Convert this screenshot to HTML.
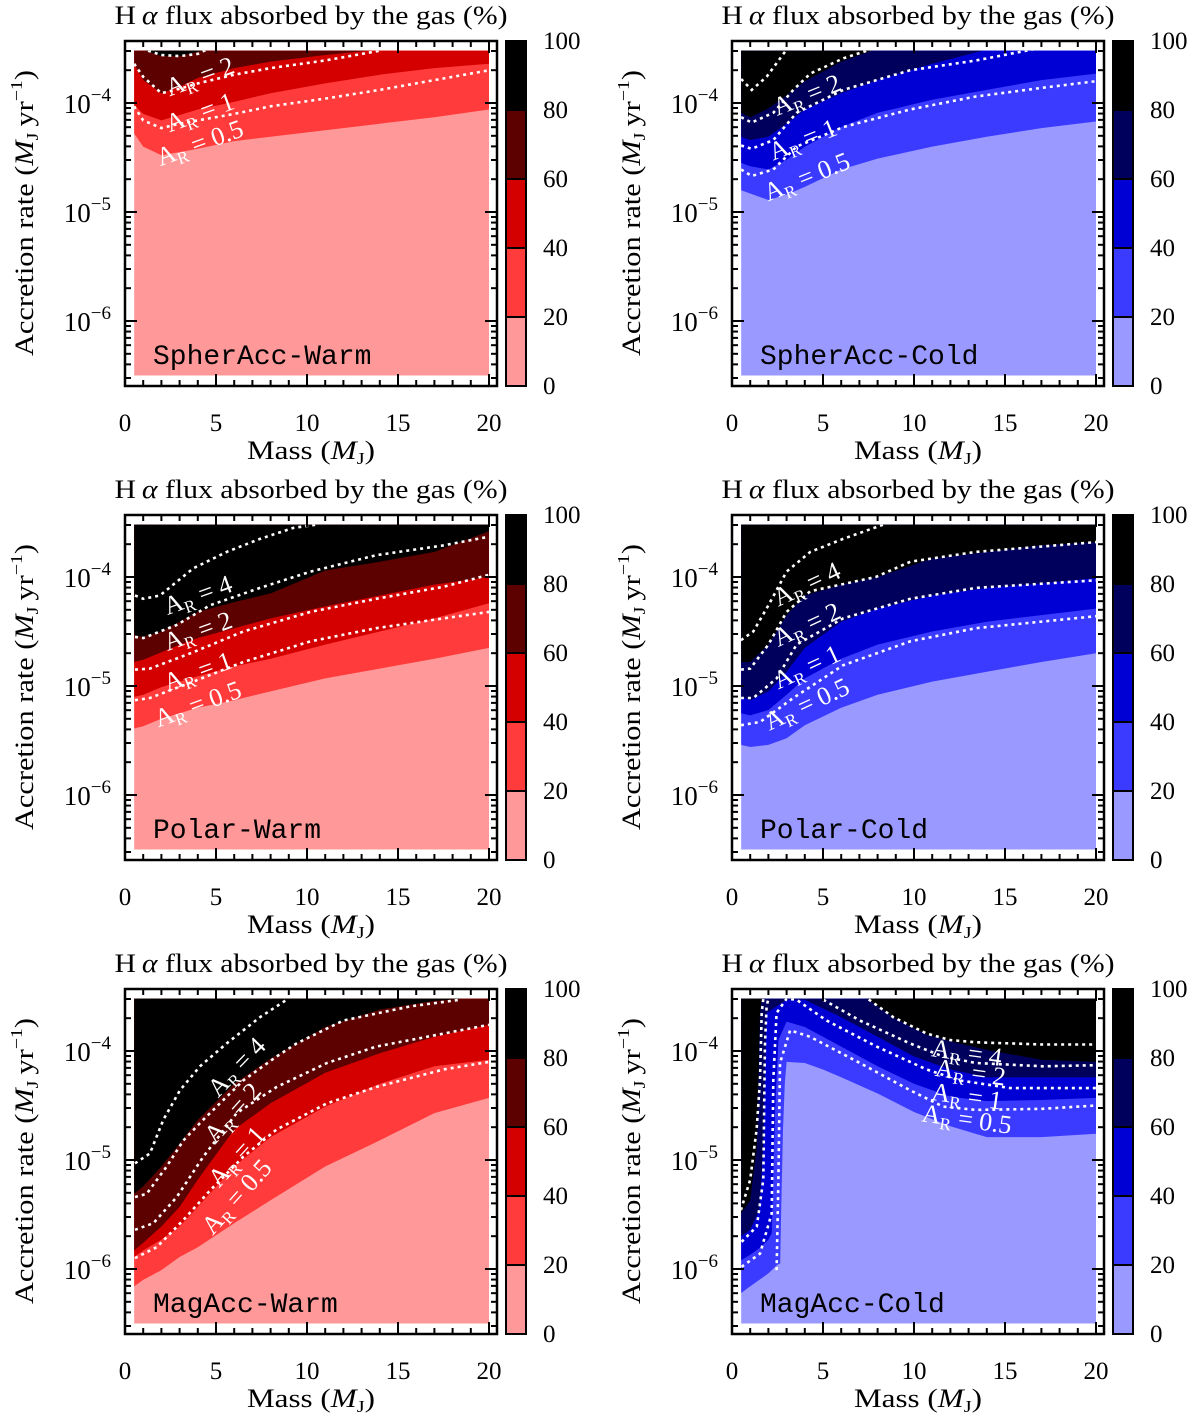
<!DOCTYPE html>
<html><head><meta charset="utf-8"><style>
html,body{margin:0;padding:0;background:#fff}
svg{display:block}
text{font-family:"Liberation Serif",serif;fill:#000}
</style></head><body>
<svg id="fig" width="1200" height="1419" viewBox="0 0 1200 1419" xmlns="http://www.w3.org/2000/svg"></svg>
<script>
// ---------- data (log10 accretion rate boundaries vs mass) ----------
const stdMass = [0.5,1,2,3,4,6,8,11,14,17,20];
const colorbarTicks = [0,20,40,60,80,100];
const xTicks = [0,5,10,15,20];
const yTickExps = [-4,-5,-6];

// SpherAcc-Warm
const spherWarm20 = [-4.28,-4.40,-4.48,-4.45,-4.42,-4.35,-4.31,-4.25,-4.19,-4.13,-4.06];
const spherWarm40 = [-4.02,-4.10,-4.16,-4.11,-4.06,-3.99,-3.91,-3.82,-3.74,-3.68,-3.64];
const spherWarm60 = [-3.64,-3.79,-3.91,-3.85,-3.77,-3.68,-3.62,-3.56,-3.51,-3.45,-3.42];
const spherWarm80 = [-3.45,-3.51,-3.57,-3.57,-3.53,-3.45,-3.40,-3.40,-3.40,-3.40,-3.40];
const spherWarmC4M = [0.9,2,3,4,4.6], spherWarmC4L = [-3.5,-3.56,-3.57,-3.55,-3.5];
const spherWarmC2M = [0.5,1,2,3,4,6,8,11,14], spherWarmC2L = [-3.64,-3.76,-3.91,-3.87,-3.82,-3.74,-3.68,-3.61,-3.52];
const spherWarmC1M = stdMass, spherWarmC1L = [-4.03,-4.16,-4.23,-4.19,-4.16,-4.10,-4.03,-3.96,-3.88,-3.79,-3.70];

// SpherAcc-Cold
const spherCold20 = [-4.80,-4.83,-4.89,-4.84,-4.77,-4.61,-4.51,-4.40,-4.31,-4.23,-4.17];
const spherCold40 = [-4.55,-4.58,-4.61,-4.52,-4.40,-4.22,-4.09,-3.97,-3.88,-3.79,-3.73];
const spherCold60 = [-4.31,-4.34,-4.31,-4.19,-4.06,-3.91,-3.79,-3.64,-3.51,-3.47,-3.44];
const spherCold80 = [-4.09,-4.13,-4.05,-3.93,-3.80,-3.62,-3.50,-3.45,-3.40,-3.40,-3.40];
const spherColdCaM = [0.5,1.08,1.9,3.0], spherColdCaL = [-3.78,-3.88,-3.76,-3.51];
const spherColdCbM = [0.5,1.08,2.27,3.37,4.3,6.12,7.6], spherColdCbL = [-4.13,-4.18,-4.09,-3.88,-3.73,-3.59,-3.51];
const spherColdCcM = [0.5,1.08,2.27,3.55,6.12,9.78,13.4,17.1], spherColdCcL = [-4.39,-4.42,-4.34,-4.09,-3.88,-3.70,-3.61,-3.49];
const spherColdCdM = [0.5,1.08,2.27,3.55,6.12,9.78,13.4,17.1,20], spherColdCdL = [-4.61,-4.67,-4.61,-4.40,-4.22,-4.06,-3.94,-3.86,-3.80];

// Polar-Warm
const polarWarm20 = [-5.39,-5.37,-5.30,-5.25,-5.20,-5.13,-5.05,-4.93,-4.84,-4.75,-4.65];
const polarWarm40 = [-5.10,-5.08,-5.01,-4.96,-4.91,-4.82,-4.75,-4.62,-4.50,-4.38,-4.24];
const polarWarm60 = [-4.78,-4.76,-4.69,-4.62,-4.56,-4.47,-4.38,-4.27,-4.17,-4.07,-4.00];
const polarWarm80 = [-4.53,-4.55,-4.50,-4.41,-4.32,-4.23,-4.15,-3.94,-3.86,-3.77,-3.58];
const polarWarmC4M = [0.55,1.01,1.92,3.75,5.59,7.42,9.25,10.5], polarWarmC4L = [-4.17,-4.20,-4.17,-3.92,-3.77,-3.65,-3.55,-3.52];
const polarWarmC2M = [0.55,1.01,2.84,4.67,7.42,10.2,13.8,17.5,20], polarWarmC2L = [-4.55,-4.56,-4.44,-4.26,-4.10,-3.95,-3.80,-3.71,-3.63];
const polarWarmC1M = [0.55,1.37,3.75,6.5,10.2,13.8,17.5,20], polarWarmC1L = [-4.85,-4.84,-4.69,-4.50,-4.32,-4.20,-4.09,-3.98];
const polarWarmC05M = [0.55,1.37,3.75,6.5,10.2,13.8,17.5,20], polarWarmC05L = [-5.13,-5.11,-4.96,-4.78,-4.59,-4.47,-4.38,-4.32];

// Polar-Cold
const polarCold20 = [-5.54,-5.56,-5.54,-5.48,-5.36,-5.20,-5.08,-4.96,-4.87,-4.78,-4.70];
const polarCold40 = [-5.25,-5.27,-5.22,-5.08,-4.93,-4.75,-4.62,-4.50,-4.41,-4.35,-4.29];
const polarCold60 = [-5.10,-5.13,-5.05,-4.87,-4.65,-4.41,-4.29,-4.17,-4.10,-4.06,-4.01];
const polarCold80 = [-4.78,-4.78,-4.62,-4.35,-4.17,-4.07,-4.00,-3.83,-3.77,-3.71,-3.68];
const polarColdC4M = [0.49,1.17,2.0,3.0,4.3,6.1,8.3], polarColdC4L = [-4.58,-4.50,-4.26,-3.95,-3.77,-3.65,-3.52];
const polarColdC2M = [0.49,1.0,2.0,3.0,4.3,7.9,9.8,13.4,20], polarColdC2L = [-4.85,-4.84,-4.62,-4.32,-4.13,-4.00,-3.86,-3.77,-3.68];
const polarColdC1M = [0.49,1.17,2.45,3.55,6.1,9.8,13.4,20], polarColdC1L = [-5.11,-5.11,-4.93,-4.62,-4.38,-4.20,-4.10,-4.03];
const polarColdC05M = [0.49,1.54,3.37,6.1,9.8,13.4,20], polarColdC05L = [-5.36,-5.33,-5.11,-4.81,-4.59,-4.47,-4.36];

// MagAcc-Warm
const magWarm20 = [-6.16,-6.10,-6.01,-5.89,-5.80,-5.58,-5.37,-5.06,-4.82,-4.57,-4.43];
const magWarm40 = [-5.89,-5.83,-5.73,-5.61,-5.43,-5.06,-4.79,-4.51,-4.30,-4.14,-4.08];
const magWarm60 = [-5.83,-5.76,-5.61,-5.43,-5.18,-4.72,-4.48,-4.20,-4.02,-3.87,-3.76];
const magWarm80 = [-5.31,-5.24,-5.06,-4.85,-4.63,-4.30,-4.07,-3.78,-3.62,-3.54,-3.50];
const magWarmC4M = [0.55,1.37,2.11,3.02,4.12,5.59,7.42,8.88], magWarmC4L = [-5.03,-4.94,-4.63,-4.36,-4.14,-3.93,-3.69,-3.53];
const magWarmC2M = [0.55,1.19,2.29,3.21,4.3,5.22,6.5,8.33,9.43,12.0,15.7,18.4], magWarmC2L = [-5.34,-5.31,-5.06,-4.82,-4.63,-4.48,-4.27,-4.05,-3.93,-3.72,-3.59,-3.53];
const magWarmC1M = [0.55,1.56,2.84,4.3,6.14,8.33,11.1,13.8,17.5,20], magWarmC1L = [-5.64,-5.58,-5.34,-4.97,-4.57,-4.33,-4.11,-3.96,-3.84,-3.76];
const magWarmC05M = [0.55,1.74,3.21,4.67,6.5,8.33,11.1,13.8,17.5,20], magWarmC05L = [-5.90,-5.80,-5.55,-5.28,-4.97,-4.72,-4.48,-4.33,-4.17,-4.10];

// MagAcc-Cold
const magCold20M = [0.5,1,1.5,2,2.5,2.65,2.7,2.8,2.9,3,4,5,6,8,10,12,14,17,20];
const magCold20 = [-6.22,-6.16,-6.10,-6.04,-5.96,-5.95,-5.49,-4.72,-4.30,-4.10,-4.11,-4.17,-4.24,-4.39,-4.56,-4.69,-4.79,-4.79,-4.76];
const magCold40M = [0.5,1,1.5,2,2.18,2.36,2.55,3,4,5,6,8,10,12,14,17,20];
const magCold40 = [-5.92,-5.87,-5.81,-5.73,-5.67,-4.57,-3.90,-3.73,-3.78,-3.87,-3.96,-4.14,-4.30,-4.42,-4.46,-4.45,-4.43];
const magCold60M = [0.5,1,1.5,1.72,1.9,3,4,5,6,8,10,12,14,17,20];
const magCold60 = [-5.70,-5.64,-5.46,-4.88,-3.65,-3.53,-3.53,-3.61,-3.69,-3.87,-4.05,-4.17,-4.24,-4.24,-4.24];
const magCold80M = [0.5,1,1.36,1.54,1.68,7.2,8.86,10.7,12,14,17,20];
const magCold80 = [-5.49,-5.37,-4.88,-3.65,-3.47,-3.49,-3.69,-3.85,-3.91,-3.99,-4.08,-4.10];
const magColdC4aM = [0.49,1.0,1.35,1.54,1.63,1.72], magColdC4aL = [-5.46,-5.18,-4.72,-4.27,-3.65,-3.52];
const magColdC4bM = [7.2,8.86,10.7,12,13.4,17.1,20], magColdC4bL = [-3.49,-3.69,-3.84,-3.90,-3.92,-3.94,-3.94];
const magColdC2aM = [0.53,1.36,1.72,1.81,1.90,2.0], magColdC2aL = [-5.75,-5.61,-5.18,-3.96,-3.59,-3.52];
const magColdC2bM = [5.02,7.03,9.78,11.6,13.4,17.1,20], magColdC2bL = [-3.53,-3.72,-3.93,-4.05,-4.11,-4.14,-4.13];
const magColdC1M = [0.53,1.54,2.18,2.27,2.45,3.0,3.55,5.2,7.95,10.7,12.5,15.3,20], magColdC1L = [-5.98,-5.86,-5.49,-4.27,-3.65,-3.52,-3.53,-3.72,-3.96,-4.17,-4.27,-4.34,-4.34];
const magColdC05M = [2.45,2.55,2.64,3.19,4.29,7.03,9.78,11.6,13.4,17.1,20], magColdC05L = [-6.01,-5.18,-4.11,-3.81,-3.87,-4.11,-4.36,-4.51,-4.54,-4.53,-4.50];

const WARM = ['#ff9999','#ff3b3b','#d40000','#5c0000','#000000'];
const COLD = ['#9999ff','#3b3bff','#0000d4','#00005c','#000000'];

const panels = [
 {key:'spher-warm', name:'SpherAcc-Warm', col:0, row:0, pal:WARM,
  levels:[[stdMass,spherWarm20],[stdMass,spherWarm40],[stdMass,spherWarm60],[stdMass,spherWarm80]],
  lines:[[spherWarmC4M,spherWarmC4L],[spherWarmC2M,spherWarmC2L],[spherWarmC1M,spherWarmC1L]],
  labels:[['2',4.12,-3.76,-20],['1',4.12,-4.09,-20],['0.5',4.12,-4.37,-20]]},
 {key:'spher-cold', name:'SpherAcc-Cold', col:1, row:0, pal:COLD,
  levels:[[stdMass,spherCold20],[stdMass,spherCold40],[stdMass,spherCold60],[stdMass,spherCold80]],
  lines:[[spherColdCaM,spherColdCaL],[spherColdCbM,spherColdCbL],[spherColdCcM,spherColdCcL],[spherColdCdM,spherColdCdL]],
  labels:[['2',4.12,-3.93,-22],['1',3.9,-4.34,-22],['0.5',4.12,-4.68,-22]]},
 {key:'polar-warm', name:'Polar-Warm', col:0, row:1, pal:WARM,
  levels:[[stdMass,polarWarm20],[stdMass,polarWarm40],[stdMass,polarWarm60],[stdMass,polarWarm80]],
  lines:[[polarWarmC4M,polarWarmC4L],[polarWarmC2M,polarWarmC2L],[polarWarmC1M,polarWarmC1L],[polarWarmC05M,polarWarmC05L]],
  labels:[['4',4.01,-4.17,-20],['2',4.01,-4.50,-20],['1',4.01,-4.87,-20],['0.5',4.01,-5.17,-20]]},
 {key:'polar-cold', name:'Polar-Cold', col:1, row:1, pal:COLD,
  levels:[[stdMass,polarCold20],[stdMass,polarCold40],[stdMass,polarCold60],[stdMass,polarCold80]],
  lines:[[polarColdC4M,polarColdC4L],[polarColdC2M,polarColdC2L],[polarColdC1M,polarColdC1L],[polarColdC05M,polarColdC05L]],
  labels:[['4',4.12,-4.07,-25],['2',4.12,-4.44,-25],['1',4.12,-4.83,-25],['0.5',4.12,-5.17,-25]]},
 {key:'mag-warm', name:'MagAcc-Warm', col:0, row:2, pal:WARM,
  levels:[[stdMass,magWarm20],[stdMass,magWarm40],[stdMass,magWarm60],[stdMass,magWarm80]],
  lines:[[magWarmC4M,magWarmC4L],[magWarmC2M,magWarmC2L],[magWarmC1M,magWarmC1L],[magWarmC05M,magWarmC05L]],
  labels:[['4',6.15,-4.15,-46],['2',5.93,-4.57,-48],['1',6.15,-4.97,-48],['0.5',6.15,-5.34,-48]]},
 {key:'mag-cold', name:'MagAcc-Cold', col:1, row:2, pal:COLD,
  levels:[[magCold20M,magCold20],[magCold40M,magCold40],[magCold60M,magCold60],[magCold80M,magCold80]],
  lines:[[magColdC4aM,magColdC4aL],[magColdC4bM,magColdC4bL],[magColdC2aM,magColdC2aL],[magColdC2bM,magColdC2bL],[magColdC1M,magColdC1L],[magColdC05M,magColdC05L]],
  labels:[['4',12.9,-4.02,8],['2',13.1,-4.20,8],['1',12.9,-4.42,8],['0.5',12.9,-4.63,8]]}
];

const NS='http://www.w3.org/2000/svg';
const svg=document.getElementById('fig');
function mk(tag, attrs, parent){const e=document.createElementNS(NS,tag);for(const k in attrs)e.setAttribute(k,attrs[k]);(parent||svg).appendChild(e);return e;}

panels.forEach((p,pi)=>{
  const x0 = p.col ? 732 : 125;
  const oy = 474*p.row;
  const y4 = 103+oy;
  const X = m => x0 + 18.2*m;
  const Y = l => y4 - (l+4)*109;
  const g = mk('g',{});
  
  

  const cp = mk('clipPath',{id:'clip'+pi}, g);
  mk('rect',{x:X(0.5),y:Y(-3.52),width:X(20)-X(0.5),height:Y(-6.5)-Y(-3.52)}, cp);
  const fills = mk('g',{'clip-path':'url(#clip'+pi+')'}, g);
  
  
  const base = mk('rect',{x:X(0.5),y:Y(-3.52),width:X(20)-X(0.5),height:Y(-6.5)-Y(-3.52),fill:p.pal[0]}, fills);
  
  
  p.levels.forEach((lv,li)=>{
    const ms=lv[0], ls=lv[1];
    let pts = ms.map((m,i)=>X(m).toFixed(1)+','+Y(ls[i]).toFixed(1));
    pts.push(X(ms[ms.length-1])+','+Y(-3.0));
    pts.push(X(ms[0])+','+Y(-3.0));
    const poly = mk('polygon',{points:pts.join(' '),fill:p.pal[li+1]}, fills);
    
    
  });
  p.lines.forEach((ln)=>{
    const ms=ln[0], ls=ln[1];
    const pl = mk('polyline',{points:ms.map((m,i)=>X(m).toFixed(1)+','+Y(ls[i]).toFixed(1)).join(' '),fill:'none',stroke:'#fff','stroke-width':2.6,'stroke-dasharray':'3,4'}, fills);
    
    
  });
  p.labels.forEach(lb=>{
    const lx=X(lb[1]), ly=Y(lb[2]);
    const t = mk('text',{x:lx,y:ly+8,'text-anchor':'middle','font-size':26,fill:'#fff',style:'fill:#fff',transform:'rotate('+lb[3]+' '+lx+' '+ly+')'}, g);
    
    
    t.appendChild(document.createTextNode('A'));
    const s = mk('tspan',{dy:5,'font-size':17,style:'fill:#fff'}, t); s.textContent='R';
    const s2 = mk('tspan',{dy:-5,style:'fill:#fff'}, t); s2.textContent=' = '+lb[0];
  });

  const fT=41+oy, fB=386+oy, fL=x0, fR=x0+372;
  const fr = mk('rect',{x:fL,y:fT,width:fR-fL,height:fB-fT,fill:'none',stroke:'#000','stroke-width':2.5}, g);
  
  
  for(let m=0;m<=20;m++){
    const major = m%5===0, len = major?12:6, x=X(m);
    mk('line',{x1:x,y1:fB,x2:x,y2:fB-len,stroke:'#000','stroke-width':2}, g);
    mk('line',{x1:x,y1:fT,x2:x,y2:fT+len,stroke:'#000','stroke-width':2}, g);
  }
  xTicks.forEach(v=>{
    const t = mk('text',{x:X(v),y:fB+45,'text-anchor':'middle','font-size':25}, g);
    
    
    t.textContent=String(v);
  });
  for(let e=-7;e<=-3;e++){
    for(let k=1;k<=9;k++){
      const l = e+Math.log10(k), y=Y(l);
      if(y<fT+2||y>fB-2) continue;
      const len = k===1?12:6;
      mk('line',{x1:fL,y1:y,x2:fL+len,y2:y,stroke:'#000','stroke-width':2}, g);
      mk('line',{x1:fR,y1:y,x2:fR-len,y2:y,stroke:'#000','stroke-width':2}, g);
    }
  }
  yTickExps.forEach(e=>{
    const t = mk('text',{x:fL-14,y:Y(e)+10,'text-anchor':'end','font-size':27}, g);
    
    
    t.appendChild(document.createTextNode('10'));
    const s = mk('tspan',{dy:-12,'font-size':19}, t); s.textContent='\u2212'+(-e);
  });
  const xt = mk('text',{x:x0+186,y:fB+73,'text-anchor':'middle','font-size':26,textLength:128,lengthAdjust:'spacingAndGlyphs'}, g);
  
  
  xt.appendChild(document.createTextNode('Mass ('));
  let s = mk('tspan',{'font-style':'italic'}, xt); s.textContent='M';
  s = mk('tspan',{dy:5,'font-size':17}, xt); s.textContent='J';
  s = mk('tspan',{dy:-5}, xt); s.textContent=')';
  const yc = 213+oy, yx = x0-101;
  const yt = mk('text',{x:yx,y:yc+9,'text-anchor':'middle','font-size':26,textLength:286,lengthAdjust:'spacingAndGlyphs',transform:'rotate(-90 '+yx+' '+yc+')'}, g);
  
  
  yt.appendChild(document.createTextNode('Accretion rate ('));
  s = mk('tspan',{'font-style':'italic'}, yt); s.textContent='M';
  s = mk('tspan',{dy:5,'font-size':17}, yt); s.textContent='J';
  s = mk('tspan',{dy:-5}, yt); s.textContent='\u2009yr';
  s = mk('tspan',{dy:-11,'font-size':17}, yt); s.textContent='\u22121';
  s = mk('tspan',{dy:11}, yt); s.textContent=')';
  const tt = mk('text',{x:x0+186,y:fT-17,'text-anchor':'middle','font-size':26,textLength:393,lengthAdjust:'spacingAndGlyphs'}, g);
  
  
  tt.appendChild(document.createTextNode('H\u2009'));
  s = mk('tspan',{'font-style':'italic'}, tt); s.textContent='\u03b1';
  s = mk('tspan',{}, tt); s.textContent=' flux absorbed by the gas (%)';
  const nm = mk('text',{x:x0+28,y:y4+261,'font-size':28,style:'font-family:"Liberation Mono",monospace'}, g);
  
  
  nm.textContent=p.name;

  const cb = mk('g',{}, g);
  
  
  const cx=x0+381, cw=20, segH=(fB-fT)/5;
  for(let i=0;i<5;i++){
    const r = mk('rect',{x:cx,y:fB-(i+1)*segH,width:cw,height:segH,fill:p.pal[i],stroke:'#000','stroke-width':2}, cb);
    
    
  }
  colorbarTicks.forEach((v,i)=>{
    const t = mk('text',{x:cx+37,y:fB-i*segH+8,'font-size':25}, cb);
    
    
    t.textContent=String(v);
  });
});
</script>
</body></html>
